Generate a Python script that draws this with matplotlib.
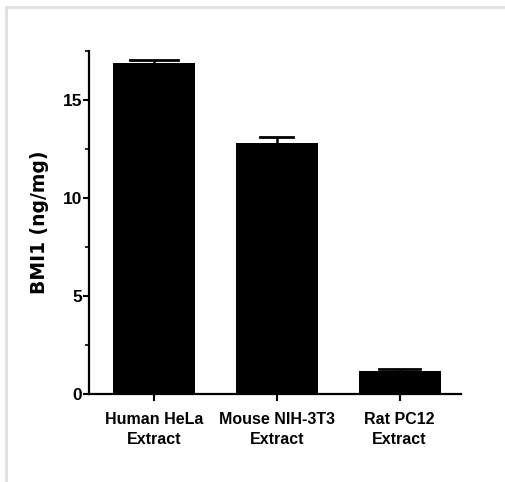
import numpy as np
import matplotlib.pyplot as plt
from matplotlib.lines import Line2D

categories = ["Human HeLa\nExtract", "Mouse NIH-3T3\nExtract", "Rat PC12\nExtract"]
values = [16.88, 12.82, 1.14]
errors = [0.14, 0.27, 0.12]
cap_widths = [0.39, 0.27, 0.33]  # in data units

plt.rcParams['font.family'] = ['Liberation Sans', 'DejaVu Sans']

fig = plt.figure(figsize=(5.06, 4.82), dpi=100)
ax = fig.add_axes([0.176, 0.183, 0.735, 0.711])

x = np.arange(len(categories))
ax.bar(x, values, width=0.667, color="black", zorder=2)
ax.errorbar(x, values, yerr=[np.zeros(len(errors)), errors], fmt="none",
            ecolor="black", elinewidth=1.8, capsize=0, zorder=3)
for xi, v, e, w in zip(x, values, errors, cap_widths):
    ax.plot([xi - w / 2, xi + w / 2], [v + e, v + e], color="black", lw=2, zorder=3)

ax.set_xlim(-0.53, 2.5)
ax.set_ylim(0, 17.5)
ax.set_yticks([0, 5, 10, 15])
ax.set_yticks([2.5, 7.5, 12.5, 17.5], minor=True)
ax.set_xticks(x)
ax.set_xticklabels(categories, fontsize=11.5, fontweight="bold", linespacing=1.4)
ax.tick_params(axis="y", labelsize=12.5, width=1.5, length=4, pad=1)
ax.tick_params(axis="y", which="minor", width=1.2, length=3)
ax.tick_params(axis="x", width=1.5, length=5, pad=8)
for lab in ax.get_yticklabels():
    lab.set_fontweight("bold")

for side in ["top", "right"]:
    ax.spines[side].set_visible(False)
for side in ["left", "bottom"]:
    ax.spines[side].set_linewidth(1.6)

ax.set_ylabel("BMI1 (ng/mg)", fontsize=13.5, fontweight="bold",
              family=["DejaVu Sans"], labelpad=10)

# light grey frame lines at top and left of the picture
fig.add_artist(Line2D([0.011, 1.0], [0.985, 0.985], color="#e0e0e0", lw=2,
                      transform=fig.transFigure))
fig.add_artist(Line2D([0.011, 0.011], [0.0, 0.985], color="#e0e0e0", lw=2,
                      transform=fig.transFigure))

fig.savefig("out.png", dpi=100)
